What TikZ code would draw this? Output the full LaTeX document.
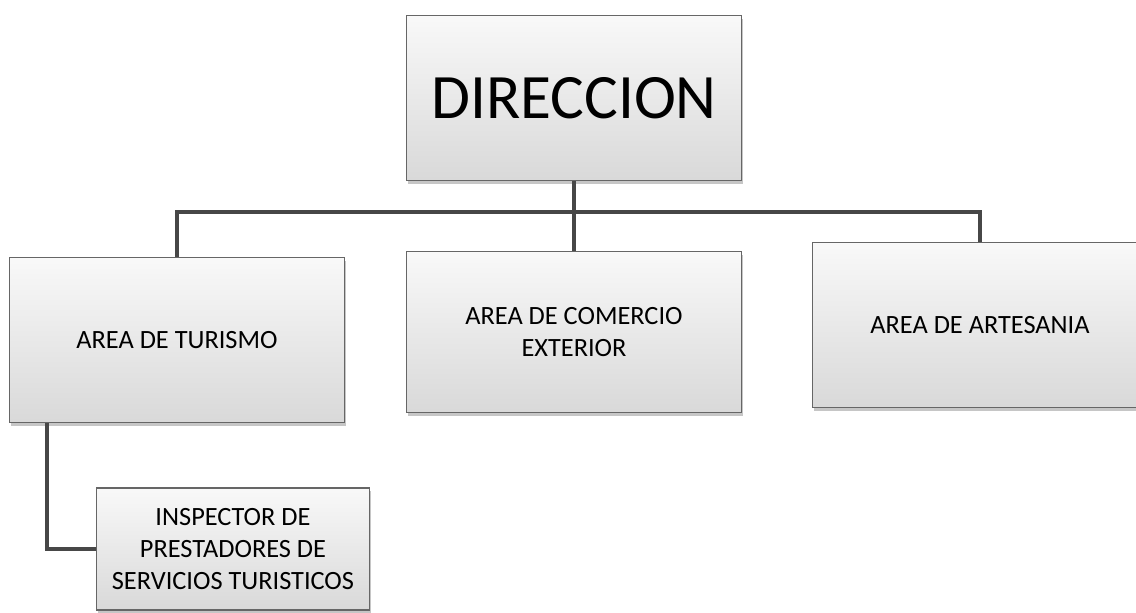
\documentclass[tikz,border=0pt]{standalone}
\usepackage{fontspec}
\setmainfont{Carlito}
\usetikzlibrary{calc, positioning, shadows}
\tikzset{
    unitbox/.style={
        draw=black!60, line width=0.8pt, rectangle,
        top color=gray!5, bottom color=gray!30,
        drop shadow={shadow xshift=0.6pt, shadow yshift=-1.8pt, opacity=0.45},
        align=center, font=\fontsize{15}{18}\selectfont,
        minimum width=6.7cm, minimum height=3.3cm, inner sep=2pt
    },
    headbox/.style={unitbox, font=\fontsize{36}{40}\selectfont},
    subbox/.style={unitbox, minimum width=5.46cm, minimum height=2.44cm},
    link/.style={draw=black!72, line width=2.2pt}
}

\begin{document}
\begin{tikzpicture}[x=0.02cm, y=-0.02cm]
    \useasboundingbox (0,0) rectangle (1136,612);
    % boxes
    \node[headbox] (dir) at (574,98) {DIRECCION};
    \node[unitbox] (tur) at (177,340) {AREA DE TURISMO};
    \node[unitbox, minimum height=3.22cm] (com) at (574,332) {AREA DE COMERCIO\\EXTERIOR};
    \node[unitbox] (art) at (980,325) {AREA DE ARTESANIA};
    \node[subbox] (insp) at (233,549) {INSPECTOR DE\\PRESTADORES DE\\SERVICIOS TURISTICOS};
    % connectors
    \coordinate (bus) at ($(dir.south)+(0,31)$);
    \draw[link] (dir.south) -- (com.north);
    \draw[link] (tur.north) |- (bus) -| (art.north);
    \draw[link] ([xshift=38*0.02cm]tur.south west) |- (insp.west);
\end{tikzpicture}
\end{document}
